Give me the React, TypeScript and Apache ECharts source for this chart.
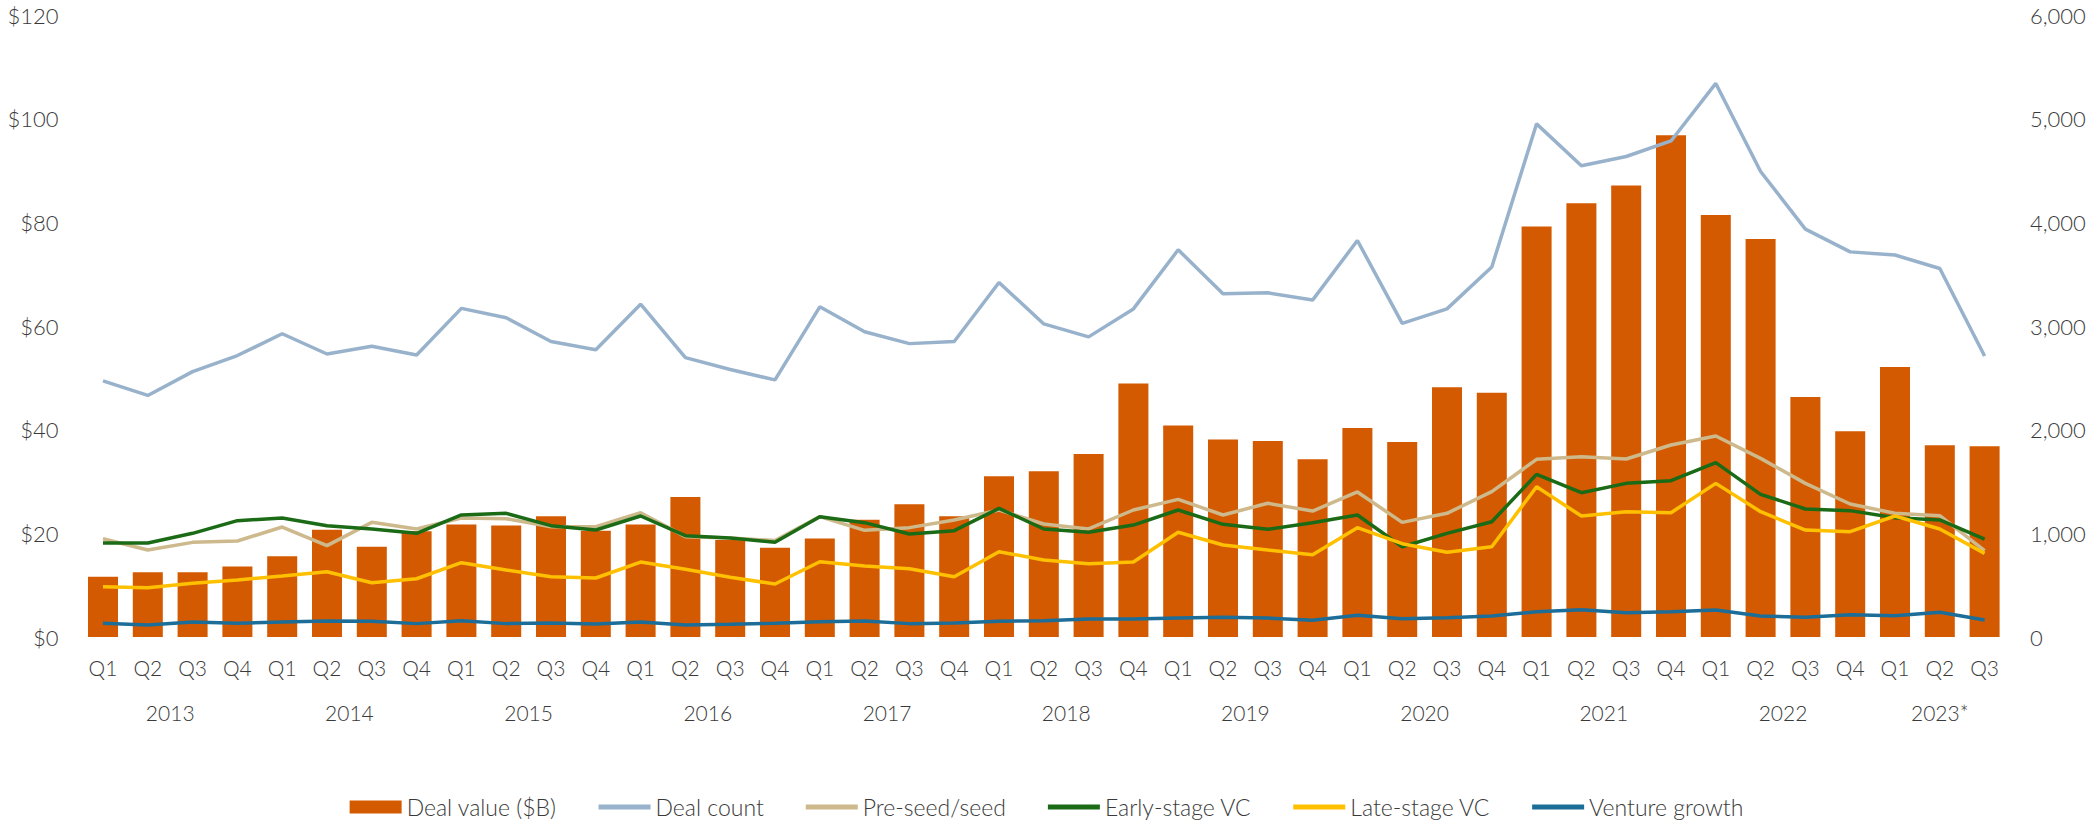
import React, { useEffect, useRef } from "react";
import * as echarts from "echarts";

const years = ["2013", "2014", "2015", "2016", "2017", "2018", "2019", "2020", "2021", "2022", "2023*"];
const quartersPerYear = [4, 4, 4, 4, 4, 4, 4, 4, 4, 4, 3];
const quarterNames = ["Q1", "Q2", "Q3", "Q4"];

const dealValue = [11.6, 12.5, 12.5, 13.6, 15.6, 20.7, 17.4, 20.4, 21.7, 21.5, 23.3, 20.5, 21.7, 27.0, 18.7, 17.2, 19.0, 22.6, 25.6, 23.3, 31.0, 32.0, 35.3, 48.9, 40.8, 38.1, 37.8, 34.3, 40.3, 37.6, 48.2, 47.1, 79.2, 83.7, 87.1, 96.8, 81.4, 76.8, 46.3, 39.7, 52.1, 37.0, 36.8];
const dealCount = [2470, 2330, 2560, 2715, 2925, 2730, 2805, 2720, 3170, 3080, 2850, 2770, 3210, 2695, 2580, 2480, 3185, 2945, 2830, 2850, 3420, 3020, 2895, 3165, 3735, 3310, 3320, 3250, 3825, 3025, 3165, 3570, 4950, 4545, 4635, 4785, 5340, 4490, 3935, 3715, 3685, 3555, 2710];
const preSeed = [948, 839, 913, 926, 1061, 881, 1106, 1042, 1148, 1141, 1064, 1064, 1199, 968, 955, 930, 1161, 1029, 1055, 1129, 1225, 1090, 1042, 1225, 1328, 1177, 1290, 1215, 1399, 1106, 1193, 1402, 1714, 1739, 1717, 1852, 1939, 1723, 1482, 1283, 1193, 1170, 833];
const earlyVC = [907, 907, 1000, 1122, 1148, 1074, 1042, 1000, 1177, 1193, 1074, 1032, 1167, 977, 955, 913, 1161, 1103, 994, 1026, 1241, 1042, 1010, 1080, 1225, 1087, 1039, 1103, 1177, 871, 1000, 1112, 1569, 1392, 1482, 1508, 1682, 1376, 1235, 1219, 1151, 1129, 945];
const lateVC = [485, 476, 518, 550, 588, 630, 524, 562, 717, 646, 582, 569, 723, 653, 576, 511, 726, 685, 659, 582, 823, 743, 707, 723, 1010, 887, 839, 794, 1055, 900, 817, 871, 1450, 1167, 1209, 1199, 1482, 1209, 1032, 1016, 1167, 1042, 807];
const ventureGrowth = [132, 116, 145, 132, 145, 154, 151, 129, 157, 129, 135, 125, 145, 116, 122, 132, 148, 154, 129, 135, 151, 157, 174, 174, 183, 190, 183, 161, 209, 177, 186, 203, 244, 264, 235, 244, 260, 203, 190, 215, 206, 238, 164];

const categories: string[] = [];
const yearCenters: number[] = [];
{
  let idx = 0;
  quartersPerYear.forEach((n) => {
    for (let q = 0; q < n; q++) categories.push(quarterNames[q]);
    yearCenters.push(idx + (n - 1) / 2);
    idx += n;
  });
}

const FONT = "Lato";
const TEXT = "#3a3a3a";
const LINE_ICON = "path://M0,0L52,0L52,5L0,5Z";

export default function App() {
  const ref = useRef<HTMLDivElement>(null);
  useEffect(() => {
    if (!ref.current) return;
    const chart = echarts.init(ref.current, undefined, { renderer: "svg" });
    const lineSeries = (name: string, data: number[], color: string, z: number) => ({
      name,
      type: "line",
      xAxisIndex: 0,
      yAxisIndex: 1,
      data,
      symbol: "none",
      showSymbol: false,
      lineStyle: { color, width: 3.5 },
      itemStyle: { color },
      z,
    });
    chart.setOption({
      animation: false,
      textStyle: { fontFamily: FONT },
      grid: { left: 80.6, right: 86, top: 15, bottom: 188, containLabel: false },
      legend: {
        top: 791,
        left: "center",
        padding: [3, 5, 3, 5],
        itemWidth: 52,
        itemHeight: 13,
        itemGap: 42,
        symbolKeepAspect: true,
        textStyle: { fontFamily: FONT, fontSize: 23, color: TEXT, fontWeight: 300, lineHeight: 26 },
        data: [
          { name: "Deal value ($B)", icon: "rect" },
          { name: "Deal count", icon: LINE_ICON },
          { name: "Pre-seed/seed", icon: LINE_ICON },
          { name: "Early-stage VC", icon: LINE_ICON },
          { name: "Late-stage VC", icon: LINE_ICON },
          { name: "Venture growth", icon: LINE_ICON },
        ],
      },
      xAxis: [
        {
          type: "category",
          data: categories,
          axisLine: { show: false },
          axisTick: { show: false },
          axisLabel: { interval: 0, margin: 20, fontSize: 21, color: TEXT, fontFamily: FONT, fontWeight: 300 },
        },
        {
          type: "value",
          position: "bottom",
          min: -0.5,
          max: categories.length - 0.5,
          axisLine: { show: false },
          axisTick: { show: false },
          splitLine: { show: false },
          axisLabel: {
            customValues: yearCenters,
            margin: 65,
            fontSize: 21,
            color: TEXT,
            fontFamily: FONT,
            fontWeight: 300,
            formatter: (v: number) => {
              const i = yearCenters.findIndex((c) => Math.abs(c - v) < 1e-6);
              return i >= 0 ? years[i] : "";
            },
          },
        },
      ],
      yAxis: [
        {
          type: "value",
          min: 0,
          max: 120,
          interval: 20,
          axisLine: { show: false },
          axisTick: { show: false },
          splitLine: { show: false },
          axisLabel: { margin: 22, fontSize: 22, color: TEXT, fontFamily: FONT, fontWeight: 300, formatter: (v: number) => "$" + v },
        },
        {
          type: "value",
          min: 0,
          max: 6000,
          interval: 1000,
          axisLine: { show: false },
          axisTick: { show: false },
          splitLine: { show: false },
          axisLabel: { margin: 23, fontSize: 22, color: TEXT, fontFamily: FONT, fontWeight: 300, formatter: (v: number) => v.toLocaleString("en-US") },
        },
      ],
      series: [
        {
          name: "Deal value ($B)",
          type: "bar",
          xAxisIndex: 0,
          yAxisIndex: 0,
          data: dealValue,
          barWidth: "67%",
          itemStyle: { color: "#D35A00" },
          z: 1,
        },
        lineSeries("Deal count", dealCount, "#98B2CC", 2),
        lineSeries("Pre-seed/seed", preSeed, "#CDB98C", 3),
        lineSeries("Early-stage VC", earlyVC, "#1B6B16", 4),
        lineSeries("Late-stage VC", lateVC, "#FFC000", 5),
        lineSeries("Venture growth", ventureGrowth, "#1C6E98", 6),
      ],
    });
    return () => chart.dispose();
  }, []);
  return <div ref={ref} style={{ position: "fixed", left: 0, top: 0, width: 2093, height: 825, background: "#fff" }} />;
}
